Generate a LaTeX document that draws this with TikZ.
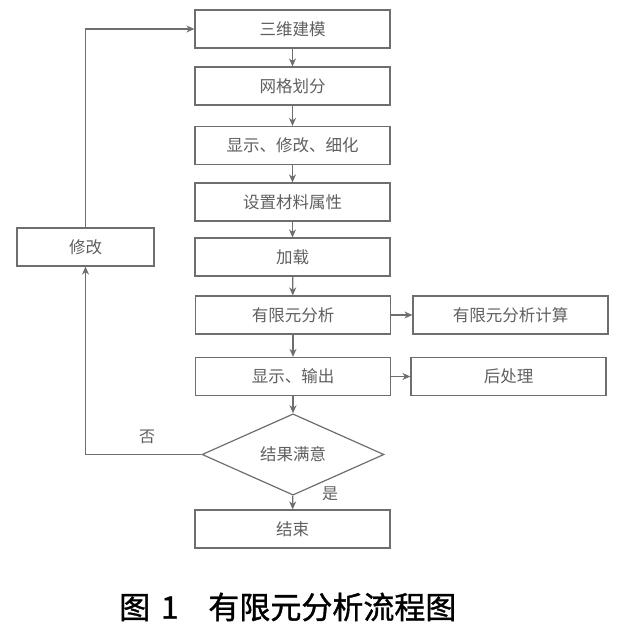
\documentclass[tikz,border=0pt]{standalone}
\usepackage{fontspec}
\newfontfamily\cjk{Noto Sans CJK SC}
\newfontfamily\capfont[FakeBold=1.2]{Noto Sans CJK SC}
\usetikzlibrary{shapes.geometric,arrows.meta}
\definecolor{linegray}{RGB}{110,110,110}
\definecolor{textgray}{RGB}{95,95,95}
\begin{document}
\begin{tikzpicture}[x=1pt,y=-1pt,
  box/.style={draw=linegray, line width=1.2pt, minimum width=195pt, minimum height=38pt, inner sep=0pt,
    font=\cjk\fontsize{16.5}{16.5}\selectfont, text=textgray},
  dec/.style={diamond, draw=linegray, line width=1.2pt, minimum width=182pt, minimum height=62pt, inner sep=0pt,
    font=\cjk\fontsize{16.5}{16.5}\selectfont, text=textgray},
  lbl/.style={font=\cjk\fontsize{16}{16}\selectfont, text=textgray, inner sep=0pt},
  arr/.style={draw=linegray, line width=1.2pt, -{Stealth[length=8pt,width=7pt,inset=2.5pt]}},
  ln/.style={draw=linegray, line width=1.2pt}]
\useasboundingbox (0,0) rectangle (628,631);
\node[box] (b1) at (292.5,29) {三维建模};
\node[box] (b2) at (292.5,86) {网格划分};
\node[box] (b3) at (292.5,145.5) {显示、修改、细化};
\node[box] (b4) at (292.5,202) {设置材料属性};
\node[box] (b5) at (292.5,257) {加载};
\node[box] (b6) at (293,315) {有限元分析};
\node[box] (b7) at (293,376.5) {显示、输出};
\node[dec] (d) at (293,454.5) {结果满意};
\node[box] (e) at (292.5,529) {结束};
\node[box, minimum width=137pt] (fix) at (85.5,247) {修改};
\node[box] (calc) at (510.5,315) {有限元分析计算};
\node[box] (post) at (508.5,376.5) {后处理};
\draw[arr] (b1) -- (b2);
\draw[arr] (b2) -- (b3);
\draw[arr] (b3) -- (b4);
\draw[arr] (b4) -- (b5);
\draw[arr] (b5) -- (b6);
\draw[arr] (b6) -- (b7);
\draw[arr] (b7) -- (d);
\draw[arr] (d) -- (e);
\draw[arr] (b6) -- (calc);
\draw[arr] (b7) -- (post);
\draw[arr] (d.west) -| (fix.south);
\draw[arr] (fix.north) |- (b1.west);
\node[lbl] (no) at (147,437) {否};
\node[lbl] (yes) at (330,494) {是};
\node[inner sep=0pt, anchor=west, font=\capfont\fontsize{31}{31}\selectfont] (cap) at (119,607) {图\hspace{11pt}1\hspace{30pt}有限元分析流程图};
\end{tikzpicture}
\end{document}
